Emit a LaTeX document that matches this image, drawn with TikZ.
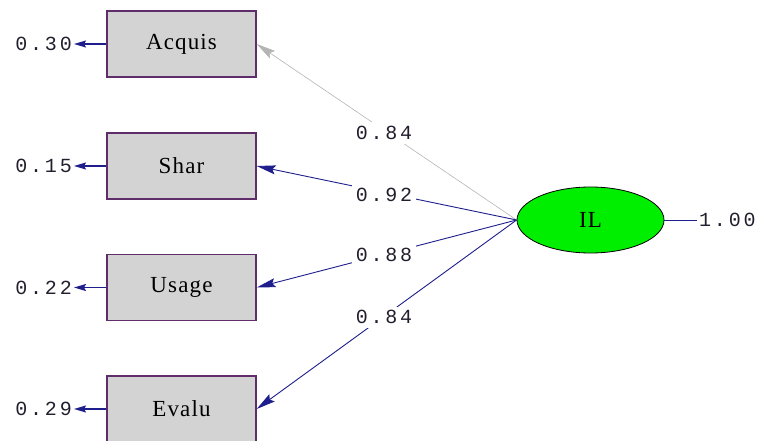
\documentclass[tikz,border=0pt]{standalone}
\usepackage{fontspec}
\setmainfont{Liberation Serif}
\newfontfamily\numfont{Liberation Mono}[LetterSpace=14]
\newfontfamily\boxfont{Liberation Serif}[LetterSpace=5]
\usepackage{tikz}
\usetikzlibrary{arrows.meta,shapes.geometric}
\definecolor{boxgray}{RGB}{211,211,211}
\definecolor{boxline}{RGB}{95,45,105}
\definecolor{pathblue}{RGB}{30,30,140}
\definecolor{lightpath}{RGB}{180,180,180}
\definecolor{ilgreen}{RGB}{0,238,0}
\definecolor{numcol}{RGB}{35,30,45}

\begin{document}
\begin{tikzpicture}[x=1pt,y=-1pt,>={Stealth[length=19pt,width=9pt,inset=3pt]},
    indic/.style={rectangle,draw=boxline,line width=1.3pt,fill=boxgray,
      minimum width=149pt,minimum height=66pt,font=\boxfont\fontsize{23}{26}\selectfont},
    latent/.style={ellipse,draw=black,line width=0.8pt,fill=ilgreen,inner sep=0pt,
      minimum width=147pt,minimum height=66pt,font=\boxfont\fontsize{23}{26}\selectfont},
    errnum/.style={inner sep=2pt,text=numcol,font=\numfont\fontsize{20}{24}\selectfont},
    coef/.style={fill=white,inner sep=4pt,text=numcol,font=\numfont\fontsize{20}{24}\selectfont},
    load/.style={->,draw=pathblue,line width=0.9pt},
    errline/.style={-{Stealth[length=12pt,width=7pt,inset=2pt]},draw=pathblue,line width=1.5pt}]
  \useasboundingbox (0,0) rectangle (761,441);

  % observed variables
  \node[indic] (acq) at (181.5,44) {Acquis};
  \node[indic] (shar) at (181.5,166) {Shar};
  \node[indic] (usage) at (181.5,287.5) {Usage};
  \node[indic] (evalu) at (181.5,409) {Evalu};

  % error terms
  \node[errnum,anchor=east] (e1) at (74,44) {0.30};
  \node[errnum,anchor=east] (e2) at (74,166) {0.15};
  \node[errnum,anchor=east] (e3) at (74,287.5) {0.22};
  \node[errnum,anchor=east] (e4) at (74,409) {0.29};

  % latent variable
  \node[latent] (il) at (590.5,220) {IL};
  \node[errnum,anchor=west] (ilerr) at (697,220) {1.00};

  \draw[errline] (acq.west) -- (e1.east);
  \draw[errline] (shar.west) -- (e2.east);
  \draw[errline] (usage.west) -- (e3.east);
  \draw[errline] (evalu.west) -- (e4.east);

  \draw[draw=pathblue,line width=0.9pt] (il.east) -- (ilerr.west);

  % loadings
  \draw[load,draw=lightpath,line width=0.6pt] (il.west) -- node[coef,pos=0.51,yshift=-3pt] {0.84} (acq.east);
  \draw[load] (il.west) -- node[coef,pos=0.51,yshift=-2pt] {0.92} (shar.east);
  \draw[load] (il.west) -- node[coef,pos=0.51] {0.88} (usage.east);
  \draw[load] (il.west) -- node[coef,pos=0.51,yshift=-1pt] {0.84} (evalu.east);
\end{tikzpicture}
\end{document}
